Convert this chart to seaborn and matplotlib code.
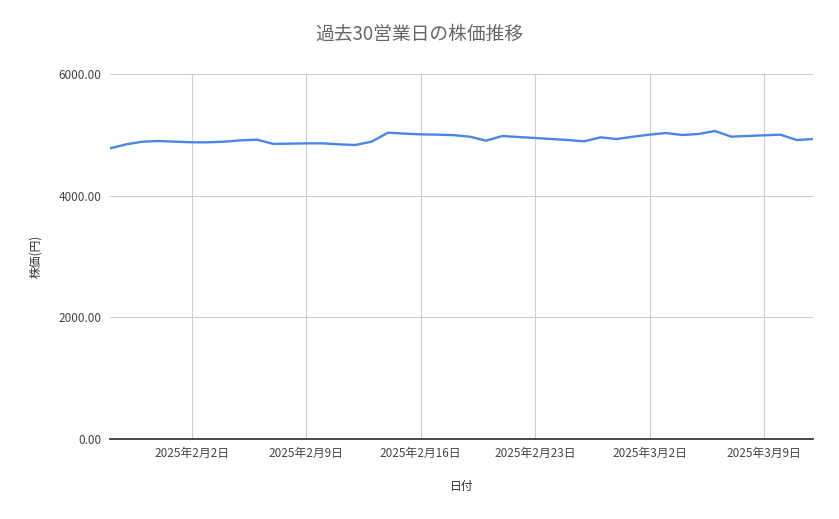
import pandas as pd
import seaborn as sns
import matplotlib.pyplot as plt

start = "2025-01-28"
prices = [4778, 4844, 4888, 4898, 4888, 4877, 4877, 4888, 4910, 4920,
          4850, 4855, 4860, 4860, 4844, 4833, 4888, 5035, 5020, 5008,
          5003, 4995, 4970, 4904, 4981, 4964, 4948, 4931, 4915, 4893,
          4959, 4931, 4970, 5003, 5030, 4997, 5014, 5063, 4970, 4981,
          4992, 5003, 4915, 4931]
dates = pd.date_range(start, periods=len(prices), freq="D")
df = pd.DataFrame({"date": dates, "price": prices})

sns.set_theme(style="white")
plt.rcParams['font.family'] = ['Noto Sans CJK JP', 'DejaVu Sans']

fig, ax = plt.subplots(figsize=(8.39, 5.19), dpi=100)
fig.subplots_adjust(left=110/839, right=813/839, top=1-74/519, bottom=1-439/519)

sns.lineplot(data=df, x="date", y="price", ax=ax, color="#4a86e8", linewidth=1.7)

ticks = pd.to_datetime(["2025-02-02", "2025-02-09", "2025-02-16", "2025-02-23",
                        "2025-03-02", "2025-03-09"])
ax.set_xticks(ticks)
ax.set_xticklabels([f"{d.year}年{d.month}月{d.day}日" for d in ticks])
ax.set_xlim(dates[0], dates[-1])
ax.set_ylim(0, 6000)
ax.set_yticks([0, 2000, 4000, 6000])
ax.set_yticklabels([f"{v:.2f}" for v in [0, 2000, 4000, 6000]])
ax.grid(True, color="#cccccc", linewidth=0.8)
ax.tick_params(labelsize=8.5, colors="#444444", length=0, pad=6)
for s in ["top", "right", "left"]:
    ax.spines[s].set_visible(False)
ax.spines["bottom"].set_color("#333333")

ax.set_xlabel("日付", fontsize=8.5, color="#333333", labelpad=14)
ax.set_ylabel("株価(円)", fontsize=8.5, color="#333333", labelpad=12)
fig.suptitle("過去30営業日の株価推移", fontsize=13.5, color="#666666", y=0.955)

fig.savefig("out.png", dpi=100)
